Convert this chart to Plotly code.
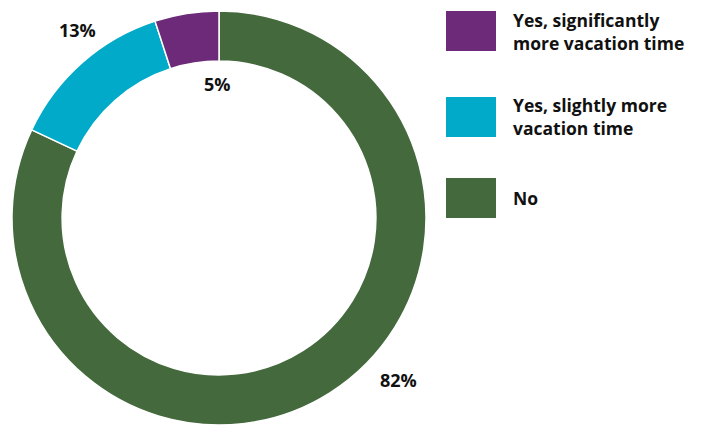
import plotly.graph_objects as go

# Survey answers (legend order, top to bottom)
labels = ["Yes, significantly<br>more vacation time", "Yes, slightly more<br>vacation time", "No"]
values = [5, 13, 82]
colors = ["#6C2A78", "#00AAC8", "#43693C"]

W, H = 707, 425
FONT = "Open Sans"

fig = go.Figure()

# Donut: center at (219, 218) px from top-left, outer radius 207 px.
# Slices run clockwise from 12 o'clock in reverse legend order,
# so "No" starts at the top and the purple slice ends there.
cx, cy, r = 219, 218, 207
fig.add_trace(go.Pie(
    labels=labels[::-1],
    values=values[::-1],
    hole=0.758,
    sort=False,
    direction="clockwise",
    rotation=0,
    marker=dict(colors=colors[::-1], line=dict(color="white", width=1.5)),
    textinfo="none",
    hoverinfo="label+percent",
    showlegend=False,
    domain=dict(x=[(cx - r) / W, (cx + r) / W],
                y=[(H - (cy + r)) / H, (H - (cy - r)) / H]),
))

# Percentage labels placed beside their slices
label_pos = [(217, 84), (77, 30), (399, 380)]
for v, (px, py) in zip(values, label_pos):
    fig.add_annotation(
        x=px / W, y=1 - py / H, xref="paper", yref="paper",
        text=f"<b>{v}%</b>", showarrow=False,
        xanchor="center", yanchor="middle",
        font=dict(family=FONT, size=18, color="#111111"),
    )

# Legend built from colored squares and bold captions
legend_rows = [31, 117, 198]
for lab, col, yc in zip(labels, colors, legend_rows):
    fig.add_shape(
        type="rect", xref="paper", yref="paper",
        x0=446 / W, x1=496 / W, y0=1 - (yc + 20) / H, y1=1 - (yc - 20) / H,
        fillcolor=col, line=dict(width=0),
    )
    fig.add_annotation(
        x=511 / W, y=1 - yc / H, xref="paper", yref="paper",
        text=f"<b>{lab}</b>", showarrow=False, align="left",
        xanchor="left", yanchor="middle",
        font=dict(family=FONT, size=17.5, color="#111111"),
    )

fig.update_layout(
    width=W, height=H,
    margin=dict(l=0, r=0, t=0, b=0),
    paper_bgcolor="white", plot_bgcolor="white",
)

fig.write_html("out.html")
